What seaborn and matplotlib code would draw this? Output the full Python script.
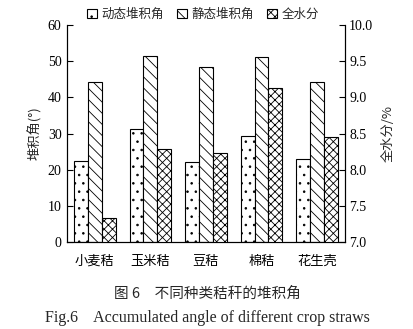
import matplotlib
matplotlib.use("Agg")
import matplotlib.pyplot as plt
import seaborn as sns
import pandas as pd
import numpy as np
from matplotlib.patches import Patch

categories = ["小麦秸", "玉米秸", "豆秸", "棉秸", "花生壳"]
dynamic_angle = [22.3, 31.2, 22.1, 29.2, 23.1]
static_angle = [44.2, 51.4, 48.3, 51.2, 44.2]
moisture = [7.34, 8.28, 8.23, 9.13, 8.45]
series_names = ["动态堆积角", "静态堆积角", "全水分"]
hatches = ["..", "\\\\\\", "xxxx"]

sns.set_theme(style="white")
plt.rcParams['font.family'] = ['Liberation Serif', 'Noto Sans CJK SC', 'DejaVu Sans']
plt.rcParams['hatch.linewidth'] = 0.6
cjk = ['Noto Sans CJK SC', 'DejaVu Sans']

rows_angle = []
rows_moist = []
for i, c in enumerate(categories):
    rows_angle.append((c, series_names[0], dynamic_angle[i]))
    rows_angle.append((c, series_names[1], static_angle[i]))
    rows_angle.append((c, series_names[2], np.nan))
    rows_moist.append((c, series_names[0], np.nan))
    rows_moist.append((c, series_names[1], np.nan))
    rows_moist.append((c, series_names[2], moisture[i]))
df_a = pd.DataFrame(rows_angle, columns=["cat", "series", "value"])
df_m = pd.DataFrame(rows_moist, columns=["cat", "series", "value"])

fig = plt.figure(figsize=(4.14, 3.29), dpi=100)
ax = fig.add_axes([0.162, 0.264, 0.671, 0.660])
ax2 = ax.twinx()

pal = {s: "white" for s in series_names}
sns.barplot(data=df_a, x="cat", y="value", hue="series", hue_order=series_names,
            order=categories, palette=pal, edgecolor="black", linewidth=0.8,
            width=0.75, errorbar=None, ax=ax, legend=False)
sns.barplot(data=df_m, x="cat", y="value", hue="series", hue_order=series_names,
            order=categories, palette=pal, edgecolor="black", linewidth=0.8,
            width=0.75, errorbar=None, ax=ax2, legend=False)

def style_bars(a):
    for cont_i, cont in enumerate(a.containers):
        for p in cont:
            p.set_hatch(hatches[cont_i])

style_bars(ax)
style_bars(ax2)

ax.set_ylim(0, 60)
ax.set_yticks([0, 10, 20, 30, 40, 50, 60])
ax2.set_ylim(7.0, 10.0)
ax2.set_yticks([7.0, 7.5, 8.0, 8.5, 9.0, 9.5, 10.0])
ax2.set_yticklabels([f"{v:.1f}" for v in [7.0, 7.5, 8.0, 8.5, 9.0, 9.5, 10.0]])
ax.set_xlim(-0.5, 4.5)

ax.set_xticks(range(len(categories)))
ax.set_xticklabels(categories, fontfamily=cjk, fontsize=9.5)
ax.set_xlabel("")
ax2.set_xlabel("")
ax.set_ylabel("堆积角(°)", fontfamily=cjk, fontsize=9.5, labelpad=4)
ax2.set_ylabel("全水分/%", fontfamily=cjk, fontsize=9.5, labelpad=6)

for a in (ax, ax2):
    a.spines['top'].set_visible(False)
    for s in ['left', 'right', 'bottom']:
        a.spines[s].set_color('black')
        a.spines[s].set_linewidth(0.8)
ax.tick_params(axis='y', direction='in', length=4, width=0.8, labelsize=10, pad=4, colors='black')
ax2.tick_params(axis='y', direction='in', length=4, width=0.8, labelsize=10, pad=3, colors='black')
ax.set_xticks([0.5, 1.5, 2.5, 3.5], minor=True)
ax.tick_params(axis='x', which='major', length=0, pad=9, labelcolor='black')
ax.tick_params(axis='x', which='minor', direction='in', length=4, width=0.8, color='black')
ax2.tick_params(axis='x', which='both', bottom=False, labelbottom=False)

handles = [Patch(facecolor="white", edgecolor="black", hatch=h, linewidth=0.8) for h in hatches]
fig.legend(handles, series_names, loc='center', bbox_to_anchor=(0.49, 0.957), ncol=3,
           frameon=False, prop={'family': cjk, 'size': 9}, handlelength=0.8, handleheight=0.8,
           handletextpad=0.4, columnspacing=1.0, borderaxespad=0)

fig.text(0.5, 1 - 294/329, "图 6　不同种类秸秆的堆积角", ha='center', va='center',
         fontfamily=cjk, fontsize=10.5)
fig.text(0.5, 1 - 318/329, "Fig.6    Accumulated angle of different crop straws", ha='center',
         va='center', fontfamily='Liberation Serif', fontsize=11.5)

fig.savefig("out.png", dpi=100)
